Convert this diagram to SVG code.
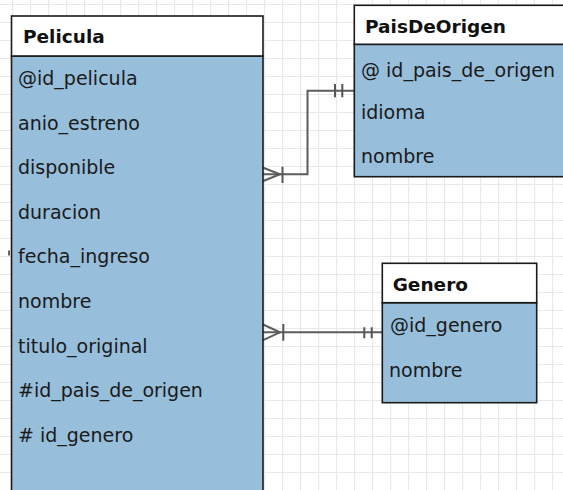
<svg xmlns="http://www.w3.org/2000/svg" width="563" height="490" viewBox="0 0 563 490">
  <defs>
    <pattern id="grid" x="12" y="4" width="18" height="18" patternUnits="userSpaceOnUse">
      <path d="M0 0.5 H18 M0.5 0 V18" fill="none" stroke="#e9e9e9" stroke-width="1.2"/>
    </pattern>
    <style>
      .hdr { fill: #ffffff; stroke: #1a1a1a; stroke-width: 1.6; }
      .body { fill: #97bedb; stroke: #1a1a1a; stroke-width: 1.6; }
      .title { font-family: "DejaVu Sans", Verdana, sans-serif; font-size: 18.5px; font-weight: bold; fill: #111111; }
      .attr { font-family: "DejaVu Sans", Verdana, sans-serif; font-size: 19px; fill: #1a1a1a; }
      .edge { fill: none; stroke: #5c5c5c; stroke-width: 2; }
      .bar { fill: none; stroke: #555555; stroke-width: 2; }
    </style>
  </defs>

  <rect x="0" y="0" width="563" height="490" fill="#ffffff"/>
  <rect x="0" y="0" width="563" height="490" fill="url(#grid)"/>

  <g id="connectors">
    <!-- Pelicula -> PaisDeOrigen -->
    <g id="edge-pelicula-pais">
      <path class="edge" d="M263 174.3 H307.5 V90.7 H354"/>
      <path class="edge" d="M262 167.3 L280 174.3 L262 181.5"/>
      <path class="bar" d="M282.5 166.7 V183"/>
      <path class="bar" d="M335 84 V97.3 M342.3 84 V97.3"/>
    </g>
    <!-- Pelicula -> Genero -->
    <g id="edge-pelicula-genero">
      <path class="edge" d="M263 332.3 H382"/>
      <path class="edge" d="M262 324 L280 332.3 L262 340.7"/>
      <path class="bar" d="M283.3 324 V340.7"/>
      <path class="bar" d="M364.3 327.3 V338.3 M371.7 327.3 V338.3"/>
    </g>
    <path d="M9 250.5 V255.5" stroke="#333333" stroke-width="1.5"/>
  </g>

  <g id="node-pelicula">
    <rect class="body" x="11.5" y="56" width="251.5" height="450"/>
    <rect class="hdr" x="11.5" y="16" width="251.5" height="40"/>
    <text class="title" x="23" y="43">Pelicula</text>
    <text class="attr" x="18" y="85">@id_pelicula</text>
    <text class="attr" x="18" y="129.6">anio_estreno</text>
    <text class="attr" x="18" y="174.2">disponible</text>
    <text class="attr" x="18" y="218.8">duracion</text>
    <text class="attr" x="18" y="263.4">fecha_ingreso</text>
    <text class="attr" x="18" y="308">nombre</text>
    <text class="attr" x="18" y="352.6">titulo_original</text>
    <text class="attr" x="18" y="397.2">#id_pais_de_origen</text>
    <text class="attr" x="18" y="441.8"># id_genero</text>
  </g>

  <g id="node-paisdeorigen">
    <rect class="body" x="354.3" y="44.3" width="230" height="132.4"/>
    <rect class="hdr" x="354.3" y="5.3" width="230" height="39"/>
    <text class="title" x="365" y="32.7">PaisDeOrigen</text>
    <text class="attr" x="361" y="77.3">@ id_pais_de_origen</text>
    <text class="attr" x="361" y="119">idioma</text>
    <text class="attr" x="361" y="163.3">nombre</text>
  </g>

  <g id="node-genero">
    <rect class="body" x="382.3" y="302.7" width="154.4" height="100"/>
    <rect class="hdr" x="382.3" y="263.3" width="154.4" height="39.4"/>
    <text class="title" x="392.7" y="290.7">Genero</text>
    <text class="attr" x="390" y="331.7">@id_genero</text>
    <text class="attr" x="389" y="376.7">nombre</text>
  </g>
</svg>
